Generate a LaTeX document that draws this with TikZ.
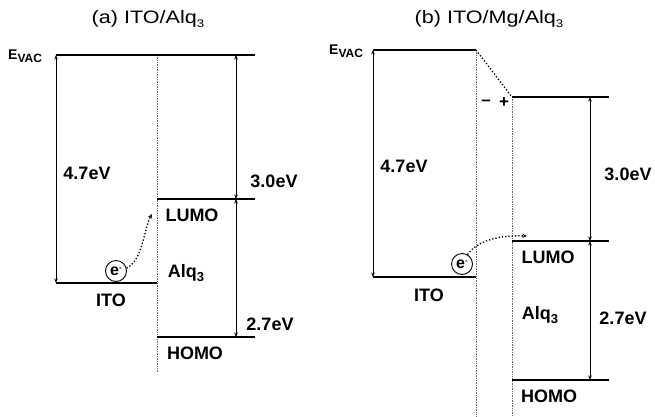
\documentclass[tikz,border=0pt]{standalone}
\usepackage{fontspec}
\setmainfont{Liberation Sans}
\usetikzlibrary{arrows.meta}
\newcommand{\subthree}[1]{\raisebox{-3.5pt}{\fontsize{#1}{#1}\selectfont 3}}
\newcommand{\evactext}{\bfseries\fontsize{14}{14}\selectfont E\raisebox{-3pt}{\fontsize{12}{12}\selectfont VAC}}
\begin{document}
\begin{tikzpicture}[x=1pt,y=-1pt,
  thicklvl/.style={line width=2.6pt},
  thinlvl/.style={line width=1.6pt},
  gap/.style={line width=0.9pt,{Stealth[length=4.5pt,width=3.5pt]}-{Stealth[length=4.5pt,width=3.5pt]}},
  iface/.style={line width=0.7pt,densely dotted,black!60},
  lbl/.style={font=\bfseries\fontsize{18}{18}\selectfont,inner sep=0pt},
  ttl/.style={font=\fontsize{18}{18}\selectfont,inner sep=0pt,xscale=1.2},
  evac/.style={inner sep=0pt,anchor=west},
  elec/.style={circle,draw,line width=0.9pt,minimum size=21pt,inner sep=0pt,font=\bfseries\fontsize{16}{16}\selectfont},
  hop/.style={line width=1.3pt,dotted,-{Stealth[length=4.5pt,width=4pt]}}]
\useasboundingbox (0,0) rectangle (655,416);

% ---------------- panel (a) ----------------
\node[ttl] (ta) at (148,19) {(a) ITO/Alq\subthree{11}};
\node[evac] (eva) at (8,56) {\evactext};

\coordinate (avacL) at (56,55);
\coordinate (avacM) at (157,55);
\coordinate (avacA) at (236,55);
\coordinate (avacR) at (255,55);
\coordinate (aitoL) at (56,283);
\coordinate (aitoR) at (157,283);
\coordinate (aluL) at (157,199);
\coordinate (aluA) at (236,199);
\coordinate (aluR) at (255,199);
\coordinate (ahoL) at (157,337);
\coordinate (ahoA) at (236,337);
\coordinate (ahoR) at (255,337);
\coordinate (aifB) at (157,372);

\draw[iface] (avacM) -- (aifB);
\draw[thicklvl] (avacL) -- (avacR);
\draw[thinlvl] (aitoL) -- (aitoR);
\draw[thicklvl] (aluL) -- (aluR);
\draw[thinlvl] (ahoL) -- (ahoR);
\draw[gap] (avacL) -- (aitoL);
\draw[gap] (avacA) -- (aluA);
\draw[gap] (aluA) -- (ahoA);

\node[lbl] (a47) at (87,173) {4.7eV};
\node[lbl] (a30) at (274,181) {3.0eV};
\node[lbl] (a27) at (270,324) {2.7eV};
\node[lbl] (alumo) at (192,215) {LUMO};
\node[lbl] (aalq) at (186,273) {Alq\subthree{13}};
\node[lbl] (aito) at (111,300) {ITO};
\node[lbl] (ahomo) at (195,353) {HOMO};

\node[elec] (ea) at (116,271) {e\raisebox{5pt}{\fontsize{8}{8}\selectfont -}};
\coordinate (aht) at (152,214);
\draw[hop] (ea.15) .. controls (143,260) and (144,228) .. (aht);

% ---------------- panel (b) ----------------
\node[ttl] (tb) at (489,19) {(b) ITO/Mg/Alq\subthree{11}};
\node[evac] (evb) at (329,51) {\evactext};

\coordinate (bvacL) at (373,50);
\coordinate (bvacR) at (476,50);
\coordinate (bavL) at (512,97);
\coordinate (bavA) at (590,97);
\coordinate (bavR) at (609,97);
\coordinate (bitoL) at (373,277);
\coordinate (bitoR) at (476,277);
\coordinate (bluL) at (512,241);
\coordinate (bluA) at (590,241);
\coordinate (bluR) at (609,241);
\coordinate (bhoL) at (512,380);
\coordinate (bhoA) at (590,380);
\coordinate (bhoR) at (609,380);
\coordinate (bif1B) at (476,416);
\coordinate (bif2B) at (512,416);

\draw[iface] (bvacR) -- (bif1B);
\draw[iface] (bavL) -- (bif2B);
\draw[line width=1.3pt,dotted] (bvacR) -- (bavL);
\draw[thinlvl] (bvacL) -- (bvacR);
\draw[thicklvl] (bavL) -- (bavR);
\draw[thinlvl] (bitoL) -- (bitoR);
\draw[thinlvl] (bluL) -- (bluR);
\draw[thicklvl] (bhoL) -- (bhoR);
\draw[gap] (bvacL) -- (bitoL);
\draw[gap] (bavA) -- (bluA);
\draw[gap] (bluA) -- (bhoA);

\node[lbl,font=\bfseries\fontsize{17}{17}\selectfont] (bminus) at (486,103) {\textendash};
\node[lbl,font=\bfseries\fontsize{17}{17}\selectfont] (bplus) at (504,103) {+};

\node[lbl] (b47) at (404,166) {4.7eV};
\node[lbl] (b30) at (628,174) {3.0eV};
\node[lbl] (b27) at (623,318) {2.7eV};
\node[lbl] (blumo) at (548,257) {LUMO};
\node[lbl] (balq) at (540,315) {Alq\subthree{13}};
\node[lbl] (bito) at (429,295) {ITO};
\node[lbl] (bhomo) at (549,396) {HOMO};

\node[elec] (eb) at (462,264) {e\raisebox{5pt}{\fontsize{8}{8}\selectfont -}};
\coordinate (bht) at (527,236);
\draw[hop] (eb.60) .. controls (478,240) and (500,235) .. (bht);
\end{tikzpicture}
\end{document}
